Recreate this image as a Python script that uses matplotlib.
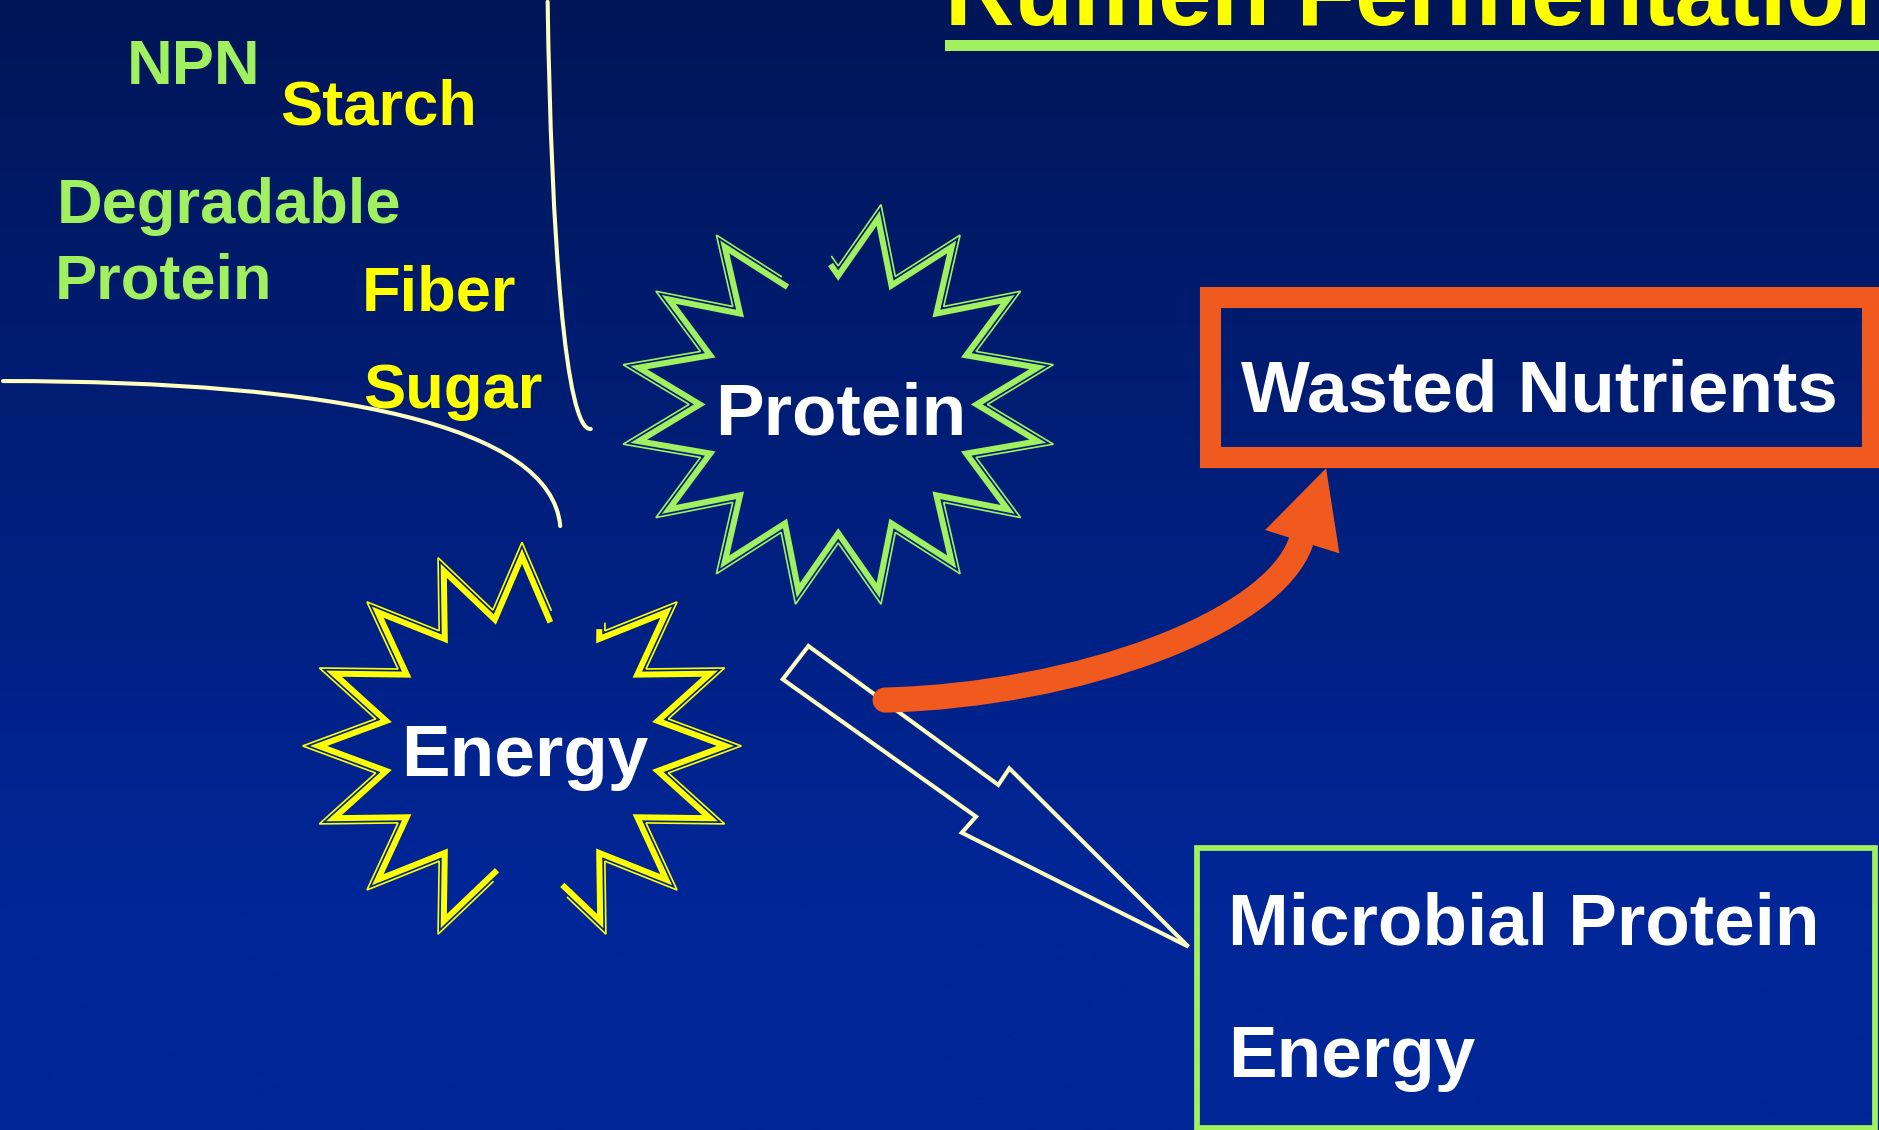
import numpy as np
import matplotlib.pyplot as plt
from matplotlib.patches import Polygon, Rectangle, PathPatch
from matplotlib.path import Path

# drawing units are pixels of the 1568 x 943 reference view
W, H = 1568, 943
PT = 0.72 * 1879 / W          # points per drawing unit

GREEN = '#A0F060'
YELLOW = '#FFFF00'
PALE = '#FFFFC0'
ORANGE = '#F15A1E'

title = 'Rumen Fermentation'
feed_labels = ['NPN', 'Starch', 'Degradable', 'Protein', 'Fiber', 'Sugar']
feed_colors = [GREEN, YELLOW, GREEN, GREEN, YELLOW, YELLOW]
star_labels = ['Protein', 'Energy']
waste_label = 'Wasted Nutrients'
product_labels = ['Microbial Protein', 'Energy']

plt.rcParams['font.family'] = ['Liberation Sans', 'DejaVu Sans']

fig = plt.figure(figsize=(18.79, 11.30), dpi=100)
ax = fig.add_axes([0, 0, 1, 1])
ax.set_axis_off()

# background: dark navy fading to royal blue
t = np.linspace(0, 1, 400)
f = np.clip(t / 0.8, 0, 1)
top = np.array([0, 22, 88]) / 255
bot = np.array([0, 38, 152]) / 255
grad = top + (bot - top) * f[:, None]
ax.imshow(grad[:, None, :], extent=[0, W, H, 0], aspect='auto',
          interpolation='bilinear', zorder=0)


def star_vertices(cx, cy, rx, ry, tip_first, ratio=0.68):
    j = np.arange(32)
    ang = np.deg2rad(j * 11.25)
    r = np.where((j % 2 == 0) == tip_first, 1.0, ratio)
    return np.column_stack([cx + rx * r * np.cos(ang), cy - ry * r * np.sin(ang)])


def inset(pts, d):
    # miter offset of a closed polygon, d > 0 moves inwards
    x, y = pts[:, 0], pts[:, 1]
    area = 0.5 * np.sum(x * np.roll(y, -1) - np.roll(x, -1) * y)
    sgn = 1 if area > 0 else -1
    out = []
    n = len(pts)
    for i in range(n):
        p, v, q = pts[i - 1], pts[i], pts[(i + 1) % n]
        e1 = (v - p) / np.hypot(*(v - p))
        e2 = (q - v) / np.hypot(*(q - v))
        n1 = sgn * np.array([-e1[1], e1[0]])
        n2 = sgn * np.array([-e2[1], e2[0]])
        out.append(v + d * (n1 + n2) / (1 + n1 @ n2))
    return np.array(out)


def sub_path(pts, s0, s1):
    n = len(pts)

    def at(s):
        i = int(np.floor(s))
        fr = s - i
        a, b = pts[i % n], pts[(i + 1) % n]
        return a + fr * (b - a)
    idx = np.arange(np.floor(s0) + 1, np.ceil(s1))
    return np.array([at(s0)] + [pts[int(k) % n] for k in idx] + [at(s1)])


def draw_star(cx, cy, tip_first, pieces, color):
    # thin outer line plus thick inner line, like a thin-thick compound stroke
    outer = star_vertices(cx, cy, 183, 170, tip_first)
    inner = inset(outer, 4.6)
    for s0, s1 in pieces:
        a = sub_path(outer, s0, s1)
        b = sub_path(inner, s0, s1)
        ax.plot(a[:, 0], a[:, 1], color=color, lw=1.4 * PT,
                solid_joinstyle='miter', zorder=2)
        ax.plot(b[:, 0], b[:, 1], color=color, lw=5.0 * PT,
                solid_joinstyle='miter', zorder=2)


# pale feed lines
for verts in ([(457, 1.5), (460, 200), (472, 360), (493, 358)],
              [(2.5, 318), (280, 318), (460, 355), (467.5, 439)]):
    ax.add_patch(PathPatch(Path(verts, [Path.MOVETO, Path.CURVE4, Path.CURVE4, Path.CURVE4]),
                           fill=False, ec=PALE, lw=3.4 * PT, capstyle='round', zorder=2))

# starbursts (with their broken spikes)
draw_star(699.5, 337.5, False, [(10, 40.15)], GREEN)
draw_star(435.6, 622.5, True, [(7, 23), (25.3, 37.1)], YELLOW)

# lightning arrow to the products box
bolt = [(674.6, 539.1), (653.2, 566.9), (814.5, 681.5), (802.6, 694.9),
        (991.7, 790.0), (842.3, 641.2), (833.1, 655.0)]
ax.add_patch(Polygon(bolt, closed=True, fill=False, ec=PALE, lw=3.4 * PT,
                     joinstyle='miter', zorder=3))

# orange arrow to wasted nutrients
shaft = Path([(738.6, 584.2), (900, 580), (1062, 520), (1085.5, 452.4)],
             [Path.MOVETO, Path.CURVE4, Path.CURVE4, Path.CURVE4])
ax.add_patch(PathPatch(shaft, fill=False, ec=ORANGE, lw=21 * PT,
                       capstyle='round', zorder=4))
ax.add_patch(Polygon([(1106.6, 390.8), (1117.7, 461.8), (1055.7, 442.3)],
                     closed=True, fc=ORANGE, ec='none', zorder=4))

# boxes
ax.add_patch(Rectangle((1009.4, 248), 1562 - 1009.4, 381.2 - 248, fill=False,
                       ec=ORANGE, lw=17.6 * PT, joinstyle='miter', zorder=4))
ax.add_patch(Rectangle((999.1, 707.6), 1564.5 - 999.1, 941 - 707.6, fill=False,
                       ec=GREEN, lw=4.8 * PT, joinstyle='miter', zorder=4))

# title and underline (title runs off the top of the slide, as in the original)
ax.text(789, 21, title, color=YELLOW, fontsize=69, fontweight='bold',
        ha='left', va='baseline', zorder=5)
ax.add_patch(Rectangle((788.6, 33.4), W - 788.6 + 5, 8.9, fc=GREEN, ec='none', zorder=5))

# feed labels
feed_x = [106, 234, 47, 46, 302, 303]
feed_y = [70, 104.3, 186, 249, 258.7, 340.7]
for s, c, x, y in zip(feed_labels, feed_colors, feed_x, feed_y):
    ax.text(x, y, s, color=c, fontsize=45.5, fontweight='bold',
            ha='left', va='baseline', zorder=5)

for s, x, y in zip(star_labels, [597, 335], [362.5, 647.6]):
    ax.text(x, y, s, color='white', fontsize=52.5, fontweight='bold',
            ha='left', va='baseline', zorder=5)

ax.text(1036, 343.5, waste_label, color='white', fontsize=52.5,
        fontweight='bold', ha='left', va='baseline', zorder=5)
for s, y in zip(product_labels, [788.6, 898.5]):
    ax.text(1025, y, s, color='white', fontsize=52.5, fontweight='bold',
            ha='left', va='baseline', zorder=5)

ax.set_xlim(0, W)
ax.set_ylim(H, 0)
fig.savefig('out.png', dpi=100)
